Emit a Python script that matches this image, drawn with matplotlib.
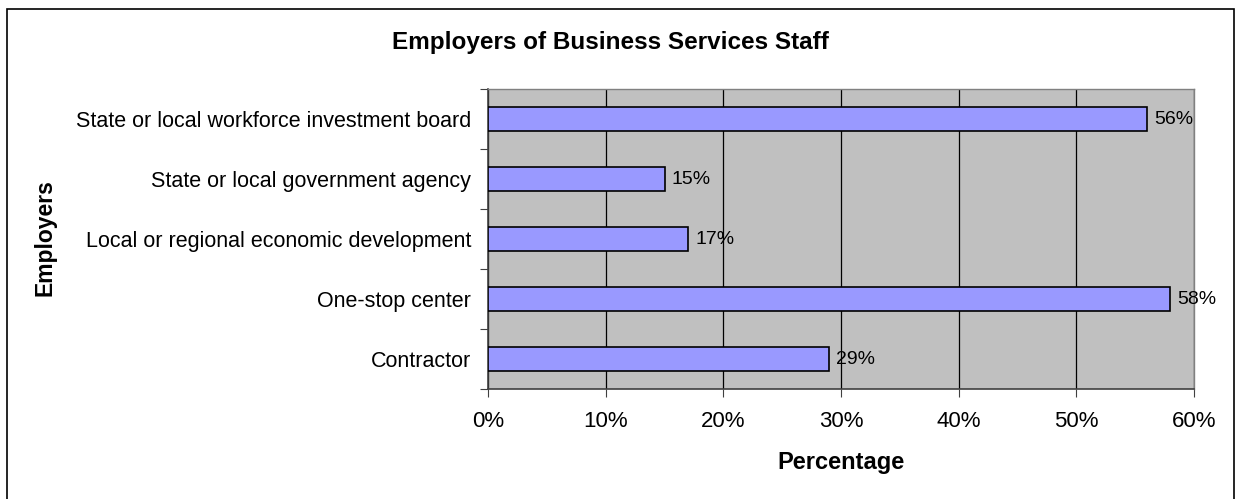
import matplotlib
matplotlib.use('Agg')
import matplotlib.pyplot as plt
from matplotlib.patches import Rectangle
from matplotlib.ticker import FixedLocator, FuncFormatter

employers = [
    "State or local workforce investment board",
    "State or local government agency",
    "Local or regional economic development",
    "One-stop center",
    "Contractor",
]
shares = [56, 15, 17, 58, 29]
x_ticks = [0, 10, 20, 30, 40, 50, 60]

plt.rcParams['font.family'] = ['Liberation Sans', 'DejaVu Sans']

W, H = 1236, 499
fig = plt.figure(figsize=(W / 100, H / 100), dpi=100)
fig.patch.set_facecolor('white')

# plot area in pixel coordinates
left, right, top, bottom = 488, 1194, 89, 389
ax = fig.add_axes([left / W, 1 - bottom / H, (right - left) / W, (bottom - top) / H])
ax.set_facecolor('#C0C0C0')

n = len(employers)
ypos = list(range(n))[::-1]
ax.barh(ypos, shares, height=0.4, color='#9999FF', edgecolor='black', linewidth=1.2, zorder=3)

for y, v in zip(ypos, shares):
    ax.text(v + 0.6, y, f"{v}%", va='center', ha='left', fontsize=14, zorder=4)

ax.set_xlim(0, 60)
ax.set_ylim(-0.5, n - 0.5)
ax.set_xticks(x_ticks)
ax.xaxis.set_major_formatter(FuncFormatter(lambda v, p: f"{v:.0f}%"))
ax.grid(axis='x', color='black', linewidth=0.9, zorder=1)

# category labels centred on bands, tick marks on band boundaries
ax.yaxis.set_major_locator(FixedLocator([i - 0.5 for i in range(n + 1)]))
ax.yaxis.set_major_formatter(FuncFormatter(lambda v, p: ""))
ax.yaxis.set_minor_locator(FixedLocator(ypos))
ax.set_yticklabels(employers, minor=True)
ax.tick_params(axis='y', which='minor', length=0, pad=12, labelsize=15.5)
ax.tick_params(axis='y', which='major', length=6, color='#404040', direction='out')
ax.tick_params(axis='x', length=6, color='#404040', pad=10, labelsize=16)

for side in ['left', 'bottom']:
    ax.spines[side].set_color('#404040')
    ax.spines[side].set_linewidth(1.2)
for side in ['top', 'right']:
    ax.spines[side].set_color('#808080')
    ax.spines[side].set_linewidth(1.0)

fig.text(610 / W, 1 - 43 / H, "Employers of Business Services Staff",
         ha='center', va='center', fontsize=17.5, fontweight='bold')
fig.text(841 / W, 1 - 462 / H, "Percentage",
         ha='center', va='center', fontsize=17, fontweight='bold')
fig.text(45 / W, 1 - 238 / H, "Employers", rotation=90,
         ha='center', va='center', fontsize=16.5, fontweight='bold')

# chart border (bottom edge falls outside the image)
fig.patches.append(Rectangle((7 / W, -5 / H), (1234 - 7) / W, 1 - 4 / H,
                             transform=fig.transFigure, fill=False,
                             edgecolor='black', linewidth=1.2))

fig.savefig('out.png', dpi=100)
